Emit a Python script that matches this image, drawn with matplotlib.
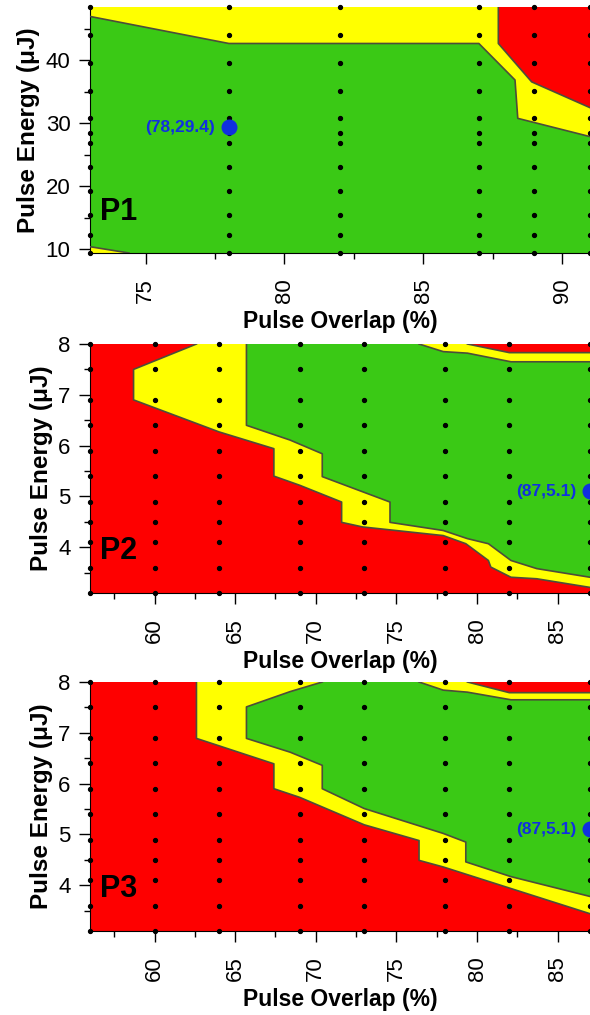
import numpy as np
import matplotlib
matplotlib.use("Agg")
import matplotlib.pyplot as plt
from matplotlib.ticker import MultipleLocator

plt.rcParams['font.family'] = ['Liberation Sans', 'DejaVu Sans']

RED = '#fe0000'
YEL = '#ffff00'
GRN = '#3ac915'
EDGE = '#4d4d3a'
BLUE = '#1030e0'

# ---- panel 1 data ----
p1_xlim = (73, 91)
p1_ylim = (9.4, 48.5)
p1_cols = [73, 78, 82, 87, 89, 91]
p1_rows = [48.5, 44.0, 39.6, 35.2, 30.8, 28.5, 26.9, 23.0, 19.3, 15.4, 12.2, 9.4]
# green/yellow boundary (top)
p1_gy_x = [73, 78, 87, 88.3, 88.4, 91]
p1_gy_y = [47.0, 42.7, 42.7, 36.9, 30.8, 27.9]
# red/yellow boundary (top right)
p1_ry_x = [87.7, 87.7, 88.9, 91]
p1_ry_y = [48.5, 42.7, 36.6, 32.5]
# yellow corner bottom left
p1_lo_x = [73, 74.4]
p1_lo_y = [10.4, 9.4]
p1_pt = (78, 29.4)

# ---- panels 2 and 3 grid ----
p23_xlim = (56, 87)
p23_ylim = (3.1, 8)
p23_cols = [56, 60, 64, 69, 73, 78, 82, 87]
p23_rows = [8, 7.5, 6.9, 6.4, 5.9, 5.4, 4.9, 4.5, 4.1, 3.6, 3.1]

# ---- panel 2 data ----
p2_ry_x = [62.6, 58.7, 58.7, 64.0, 67.4, 67.4, 69.0, 71.6, 71.6, 72.9, 77.9, 79.3, 80.7, 80.85, 82.1, 83.7, 87]
p2_ry_y = [8, 7.5, 6.9, 6.27, 5.94, 5.40, 5.22, 4.89, 4.49, 4.40, 4.23, 4.07, 3.74, 3.61, 3.41, 3.38, 3.21]
p2_gy_x = [65.7, 65.7, 68.4, 70.4, 70.4, 74.6, 74.6, 77.9, 79.4, 80.7, 82.1, 83.7, 87]
p2_gy_y = [8, 6.40, 6.11, 5.84, 5.39, 4.89, 4.49, 4.33, 4.17, 4.07, 3.74, 3.58, 3.41]
p2_gyt_x = [76.4, 77.9, 79.4, 82.1, 87]
p2_gyt_y = [8, 7.85, 7.82, 7.65, 7.65]
p2_ryt_x = [79.4, 82.0, 87]
p2_ryt_y = [8, 7.83, 7.83]
p2_pt = (87, 5.1)

# ---- panel 3 data ----
p3_ry_x = [62.6, 62.6, 67.4, 67.4, 69.0, 73.0, 76.4, 76.4, 77.9, 87]
p3_ry_y = [8, 6.89, 6.39, 5.90, 5.73, 5.19, 4.88, 4.49, 4.36, 3.44]
p3_gy_x = [70.4, 68.4, 65.7, 65.7, 68.4, 70.4, 70.4, 73.0, 77.9, 79.3, 79.3, 82.1, 87]
p3_gy_y = [8, 7.81, 7.51, 6.89, 6.62, 6.36, 5.90, 5.51, 5.02, 4.85, 4.46, 4.17, 3.78]
p3_gyt_x = [76.4, 77.9, 79.4, 82.1, 87]
p3_gyt_y = [8, 7.84, 7.80, 7.65, 7.65]
p3_ryt_x = [79.4, 82.0, 87]
p3_ryt_y = [8, 7.79, 7.79]
p3_pt = (87, 5.1)


def edge(ax, x, y):
    ax.plot(x, y, color=EDGE, lw=1.2, zorder=3)


def dots(ax, cols, rows):
    gx, gy = np.meshgrid(cols, rows)
    ax.plot(gx.ravel(), gy.ravel(), 'o', color='black', ms=2.8, zorder=4, clip_on=False)


def style(ax, xlim, ylim, xmaj, ymaj, label):
    ax.set_xlim(*xlim)
    ax.set_ylim(*ylim)
    ax.xaxis.set_major_locator(MultipleLocator(xmaj))
    ax.xaxis.set_minor_locator(MultipleLocator(xmaj / 2))
    ax.yaxis.set_major_locator(MultipleLocator(ymaj))
    ax.yaxis.set_minor_locator(MultipleLocator(ymaj / 2))
    ax.tick_params(which='major', direction='out', length=8, width=1, labelsize=16)
    ax.tick_params(axis='x', which='major', labelrotation=90, pad=10)
    ax.tick_params(axis='y', which='major', pad=6)
    ax.tick_params(which='minor', direction='out', length=4.5, width=1)
    for s in ['top', 'right']:
        ax.spines[s].set_visible(False)
    ax.set_xlabel('Pulse Overlap (%)', fontsize=16.5, fontweight='bold', labelpad=5)
    ax.set_ylabel('Pulse Energy (\u03bcJ)', fontsize=17.5, fontweight='bold', labelpad=4)
    ax.text(0.02, 0.135, label, transform=ax.transAxes, fontsize=22,
            fontweight='bold', va='baseline', zorder=6)


def blue_point(ax, pt):
    ax.plot(pt[0], pt[1], 'o', color=BLUE, ms=10.5, zorder=5)
    ax.annotate('(%g,%g)' % pt, pt, xytext=(-10, 0), textcoords='offset points',
                ha='right', va='center', color=BLUE, fontsize=12.5, fontweight='bold', zorder=6)


fig = plt.figure(figsize=(5.9, 10.15), dpi=100)
L, W = 90 / 590, 500 / 590
ax1 = fig.add_axes([L, 1 - 253 / 1015, W, 246 / 1015])
ax2 = fig.add_axes([L, 1 - 593 / 1015, W, 249 / 1015])
ax3 = fig.add_axes([L, 1 - 931 / 1015, W, 249 / 1015])

# panel 1
ax1.set_facecolor(GRN)
top1 = p1_ylim[1]
ax1.fill(p1_gy_x + [91, 73], p1_gy_y + [top1, top1], color=YEL, lw=0, zorder=1)
ax1.fill(p1_ry_x + [91], p1_ry_y + [top1], color=RED, lw=0, zorder=2)
ax1.fill(p1_lo_x + [73], p1_lo_y + [p1_ylim[0]], color=YEL, lw=0, zorder=1)
edge(ax1, p1_gy_x, p1_gy_y)
edge(ax1, p1_ry_x, p1_ry_y)
edge(ax1, p1_lo_x, p1_lo_y)
dots(ax1, p1_cols, p1_rows)
style(ax1, p1_xlim, p1_ylim, 5, 10, 'P1')
blue_point(ax1, p1_pt)

# panels 2 and 3
for ax, ry, gy, gyt, ryt, pt, lab in [
        (ax2, (p2_ry_x, p2_ry_y), (p2_gy_x, p2_gy_y), (p2_gyt_x, p2_gyt_y), (p2_ryt_x, p2_ryt_y), p2_pt, 'P2'),
        (ax3, (p3_ry_x, p3_ry_y), (p3_gy_x, p3_gy_y), (p3_gyt_x, p3_gyt_y), (p3_ryt_x, p3_ryt_y), p3_pt, 'P3')]:
    ax.set_facecolor(RED)
    top = p23_ylim[1]
    right = p23_xlim[1]
    ax.fill(ry[0] + [right], ry[1] + [top], color=YEL, lw=0, zorder=1)
    ax.fill(gy[0] + gyt[0][::-1], gy[1] + gyt[1][::-1], color=GRN, lw=0, zorder=1.5)
    ax.fill(ryt[0] + [right], ryt[1] + [top], color=RED, lw=0, zorder=2)
    for c in (ry, gy, gyt, ryt):
        edge(ax, c[0], c[1])
    dots(ax, p23_cols, p23_rows)
    style(ax, p23_xlim, p23_ylim, 5, 1, lab)
    blue_point(ax, pt)

fig.savefig('out.png', dpi=100)
